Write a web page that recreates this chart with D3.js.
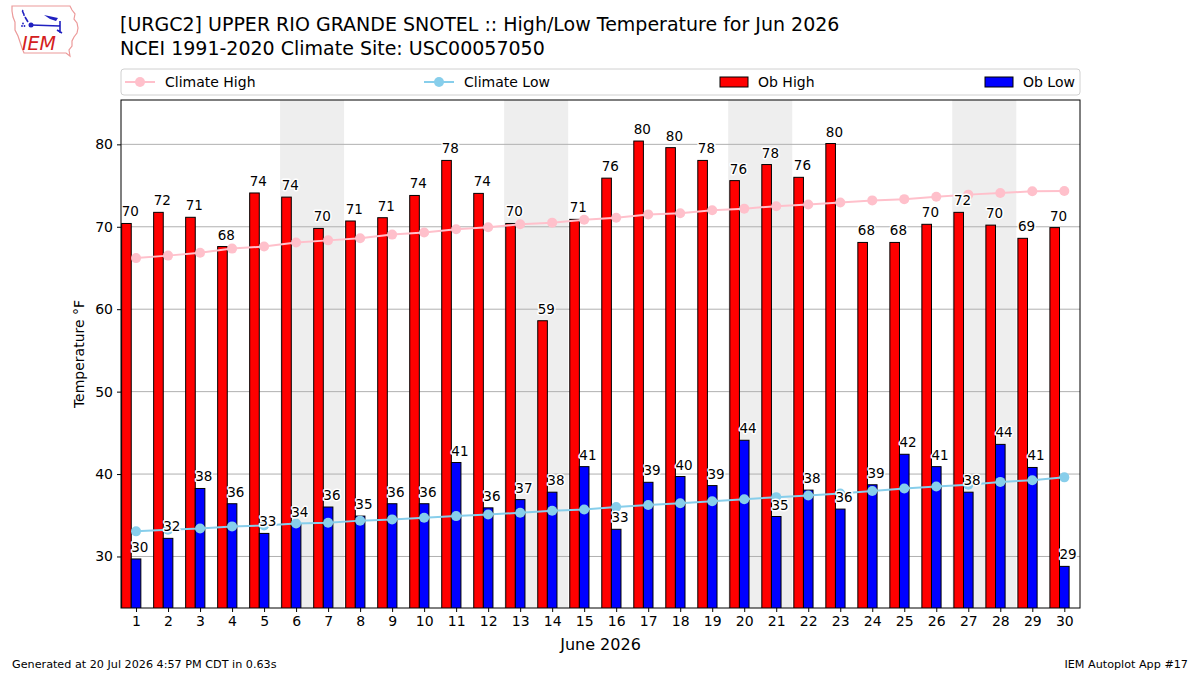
<!DOCTYPE html>
<html>
<head>
<meta charset="utf-8">
<script src="https://cdn.jsdelivr.net/npm/d3@7"></script>
<style>
  html, body { margin: 0; padding: 0; background: #fff; }
  svg text { font-family: "DejaVu Sans", sans-serif; }
</style>
</head>
<body>
<svg id="chart" width="1200" height="675"></svg>
<script>
// ---------------- DATA ----------------
const days = [1,2,3,4,5,6,7,8,9,10,11,12,13,14,15,16,17,18,19,20,21,22,23,24,25,26,27,28,29,30];
const obHigh = [70.4,71.75,71.15,67.6,74.1,73.6,69.8,70.7,71.1,73.8,78.05,74.05,70.4,58.6,70.9,75.9,80.4,79.6,78.05,75.6,77.55,76.0,80.1,68.1,68.1,70.3,71.75,70.2,68.6,69.9];
const obLow = [29.7,32.2,38.25,36.4,32.8,34.0,36.0,34.9,36.4,36.4,41.4,35.9,36.9,37.8,40.9,33.3,39.0,39.7,38.6,44.1,34.85,38.05,35.75,38.7,42.4,40.9,37.8,43.6,40.8,28.8];
const climHigh = [66.2,66.5,66.85,67.35,67.6,68.1,68.35,68.6,69.05,69.3,69.7,69.95,70.3,70.5,70.85,71.1,71.5,71.65,72.0,72.2,72.5,72.7,72.95,73.2,73.35,73.65,73.9,74.1,74.3,74.35];
const climLow = [33.05,33.25,33.4,33.65,33.75,34.0,34.1,34.35,34.5,34.7,34.9,35.1,35.3,35.55,35.7,36.0,36.25,36.45,36.7,36.95,37.2,37.4,37.65,37.95,38.25,38.5,38.7,39.05,39.25,39.6];
const weekendStarts = [6,13,20,27];
const yTicks = [30,40,50,60,70,80];
const titleLines = ["[URGC2] UPPER RIO GRANDE SNOTEL :: High/Low Temperature for Jun 2026",
                    "NCEI 1991-2020 Climate Site: USC00057050"];
const legendLabels = ["Climate High","Climate Low","Ob High","Ob Low"];
const xLabel = "June 2026";
const yLabel = "Temperature \u00B0F";
const footLeft = "Generated at 20 Jul 2026 4:57 PM CDT in 0.63s";
const footRight = "IEM Autoplot App #17";

// ---------------- LAYOUT ----------------
const L = 121, R = 1080, T = 100, B = 608;
const svg = d3.select("#chart");
svg.append("rect").attr("width",1200).attr("height",675).attr("fill","#fff");

const x = d3.scaleLinear().domain([0.53, 30.49]).range([L, R]);
const y = d3.scaleLinear().domain([23.75, 85.38]).range([B, T]);

const plot = svg.append("g");
plot.append("clipPath").attr("id","clip").append("rect")
  .attr("x",L).attr("y",T).attr("width",R-L).attr("height",B-T);
const g = plot.append("g").attr("clip-path","url(#clip)");

// weekend shading
g.selectAll("rect.wk").data(weekendStarts).join("rect")
  .attr("class","wk")
  .attr("x", d => x(d - 0.5))
  .attr("width", d => x(d + 1.5) - x(d - 0.5))
  .attr("y", T).attr("height", B - T)
  .attr("fill", "#eeeeee");

// grid
g.selectAll("line.grid").data(yTicks).join("line")
  .attr("x1", L).attr("x2", R)
  .attr("y1", d => y(d)).attr("y2", d => y(d))
  .attr("stroke", "#b0b0b0").attr("stroke-width", 1);

// bars
const hiData = days.map((d,i) => ({d, v: obHigh[i]}));
const loData = days.map((d,i) => ({d, v: obLow[i]}));
g.selectAll("rect.hi").data(hiData).join("rect")
  .attr("x", p => x(p.d - 0.45))
  .attr("width", p => x(p.d - 0.15) - x(p.d - 0.45))
  .attr("y", p => y(p.v))
  .attr("height", p => B + 5 - y(p.v))
  .attr("fill", "#ff0000").attr("stroke", "#000").attr("stroke-width", 1);
g.selectAll("rect.lo").data(loData).join("rect")
  .attr("x", p => x(p.d - 0.15))
  .attr("width", p => x(p.d + 0.15) - x(p.d - 0.15))
  .attr("y", p => y(p.v))
  .attr("height", p => B + 5 - y(p.v))
  .attr("fill", "#0000ff").attr("stroke", "#000").attr("stroke-width", 1);

// climate lines
function climLine(vals, color) {
  const pts = days.map((d,i) => [d, vals[i]]);
  g.append("path").datum(pts)
    .attr("d", d3.line().x(p => x(p[0])).y(p => y(p[1])))
    .attr("fill","none").attr("stroke", color).attr("stroke-width", 2);
  g.selectAll(null).data(pts).join("circle")
    .attr("cx", p => x(p[0])).attr("cy", p => y(p[1])).attr("r", 5)
    .attr("fill", color);
}
climLine(climHigh, "#ffc0cb");
climLine(climLow, "#87ceeb");

// value labels
function labels(data, off) {
  g.selectAll(null).data(data).join("text")
    .attr("x", p => x(p.d + off))
    .attr("y", p => y(p.v) - 7)
    .attr("font-size", 13.5)
    .attr("fill", "#000")
    .attr("stroke", "#fff").attr("stroke-width", 3)
    .attr("paint-order", "stroke")
    .attr("stroke-linejoin", "round")
    .text(p => Math.round(p.v));
}
labels(hiData, -0.45);
labels(loData, -0.15);

// frame
plot.append("rect").attr("x",L).attr("y",T).attr("width",R-L).attr("height",B-T)
  .attr("fill","none").attr("stroke","#000").attr("stroke-width",1);

// axes
const yAxis = d3.axisLeft(y).tickValues(yTicks).tickSize(4).tickPadding(4);
const ya = svg.append("g").attr("transform", `translate(${L},0)`).call(yAxis);
const xAxis = d3.axisBottom(x).tickValues(days).tickSize(4).tickPadding(4).tickFormat(d3.format("d"));
const xa = svg.append("g").attr("transform", `translate(0,${B})`).call(xAxis);
[ya, xa].forEach(a => {
  a.select(".domain").remove();
  a.selectAll("text").attr("font-size", 14).attr("font-family","DejaVu Sans").attr("fill","#000");
  a.selectAll("line").attr("stroke","#000");
});

// axis labels
svg.append("text").attr("x", (L+R)/2).attr("y", 650).attr("text-anchor","middle")
  .attr("font-size", 16).text(xLabel);
svg.append("text").attr("transform", "translate(84,354) rotate(-90)").attr("text-anchor","middle")
  .attr("font-size", 14).text(yLabel);

// titles
svg.selectAll("text.title").data(titleLines).join("text")
  .attr("x", 120).attr("y", (d,i) => 31 + i*24)
  .attr("font-size", 19).text(d => d);

// legend
const lg = svg.append("g");
lg.append("rect").attr("x", 121).attr("y", 69).attr("width", 959).attr("height", 26)
  .attr("rx", 3).attr("fill","#fff").attr("stroke","#d0d0d0").attr("stroke-width",1);
const lineItems = [{c:"#ffc0cb", x0:125, t:legendLabels[0]}, {c:"#87ceeb", x0:424, t:legendLabels[1]}];
lineItems.forEach(it => {
  lg.append("line").attr("x1", it.x0).attr("x2", it.x0+30).attr("y1",82).attr("y2",82)
    .attr("stroke", it.c).attr("stroke-width",2);
  lg.append("circle").attr("cx", it.x0+15).attr("cy",82).attr("r",5).attr("fill",it.c);
  lg.append("text").attr("x", it.x0+40).attr("y", 87).attr("font-size",14).text(it.t);
});
const patchItems = [{c:"#ff0000", x0:720, t:legendLabels[2]}, {c:"#0000ff", x0:985, t:legendLabels[3]}];
patchItems.forEach(it => {
  lg.append("rect").attr("x", it.x0).attr("y", 77).attr("width",28).attr("height",10)
    .attr("fill", it.c).attr("stroke","#000").attr("stroke-width",1);
  lg.append("text").attr("x", it.x0+38).attr("y", 87).attr("font-size",14).text(it.t);
});

// footer
svg.append("text").attr("x", 12).attr("y", 668).attr("font-size", 11.2).text(footLeft);
svg.append("text").attr("x", 1188).attr("y", 668).attr("text-anchor","end").attr("font-size", 11.2).text(footRight);

// logo (IEM)
const logo = svg.append("g");
const iowa = [[12,6],[70,6],[72,10],[75,14],[74,19],[77,23],[78,28],[77,33],[74,37],[72,41],[72,46],[69,50],[70,56],[66,53],[24,53],[22,48],[20,42],[18,36],[15,30],[15,22],[13,17],[12,11]];
logo.append("path").attr("d", d3.line().curve(d3.curveLinearClosed)(iowa))
  .attr("fill","none").attr("stroke","#ec9a9a").attr("stroke-width",1.2);
logo.append("path").attr("d","M23,10 C21,12 25,13 24,16 M25,17 L28,22 M31,25 L60,26 M60,21 L60,33 M57,30 L62,33")
  .attr("fill","none").attr("stroke","#2020c0").attr("stroke-width",1.6);
logo.append("path").attr("d","M44,15 L58,18 L56,21 L50,19 Z").attr("fill","#2020c0");
logo.append("circle").attr("cx",31).attr("cy",25).attr("r",2.5).attr("fill","#2020c0");
logo.selectAll(null).data([[22,26],[24.5,26],[23,23.5]]).join("circle")
  .attr("cx", p => p[0]).attr("cy", p => p[1]).attr("r", 0.9).attr("fill","#2020c0");
logo.append("text").attr("x",22).attr("y",50).attr("font-family","Liberation Serif, serif")
  .attr("font-style","italic").attr("font-size",19).attr("fill","#d42020").text("IEM");
</script>
</body>
</html>
